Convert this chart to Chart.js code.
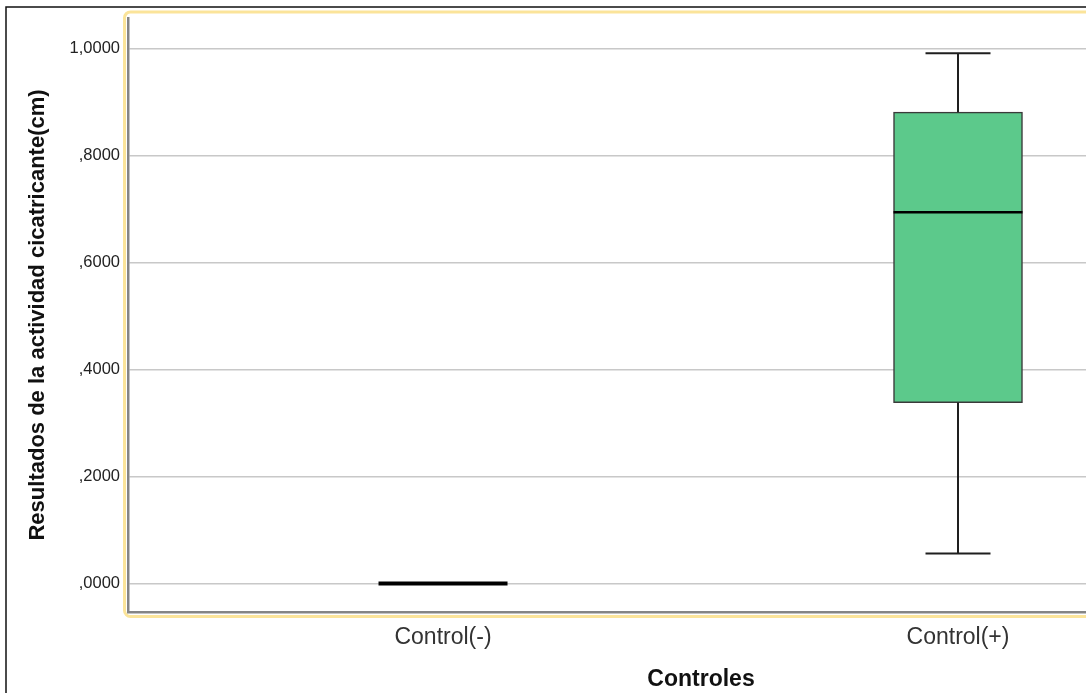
<!DOCTYPE html>
<html>
<head>
<meta charset="utf-8">
<script src="https://cdn.jsdelivr.net/npm/chart.js@4/dist/chart.umd.min.js"></script>
<style>
  html, body { margin: 0; padding: 0; background: #fff; }
  #wrap { width: 1086px; height: 693px; overflow: hidden; position: relative; }
  #chart { display: block; }
</style>
</head>
<body>
<div id="wrap"><canvas id="chart" width="1300" height="693"></canvas></div>
<script>
// Box-plot summary for each control group
const categories = ['Control(-)', 'Control(+)'];
const whiskerLow  = [0, 0.056];
const q1          = [0, 0.338];
const median      = [0, 0.694];
const q3          = [0, 0.881];
const whiskerHigh = [0, 0.991];
const yTicks = [0, 0.2, 0.4, 0.6, 0.8, 1.0];

const boxData = categories.map((c, i) => ({ x: i + 1, y: [q1[i], q3[i]] }));

const fmt = v => v.toFixed(4).replace('.', ',').replace(/^0/, '');

// Frame around the output and the yellow selection frame around the plot
const framePlugin = {
  id: 'frames',
  beforeDraw(chart) {
    const { ctx, chartArea: a, width, height } = chart;
    ctx.save();
    ctx.fillStyle = '#ffffff';
    ctx.fillRect(0, 0, width, height);
    ctx.strokeStyle = '#111111';
    ctx.lineWidth = 1.5;
    ctx.beginPath();
    ctx.moveTo(6, height);
    ctx.lineTo(6, 7);
    ctx.lineTo(width, 7);
    ctx.stroke();
    ctx.strokeStyle = '#fbe49a';
    ctx.lineWidth = 3;
    ctx.beginPath();
    ctx.roundRect(a.left - 3.5, a.top - 6, (a.right + 6) - (a.left - 3.5), (a.bottom + 4.5) - (a.top - 6), 6);
    ctx.stroke();
    ctx.restore();
  }
};

// Whiskers, caps and median lines drawn over the boxes
const whiskerPlugin = {
  id: 'whiskers',
  afterDatasetsDraw(chart) {
    const { ctx, scales: { x, y } } = chart;
    const boxW = 129, capW = 65;
    ctx.save();
    ctx.lineCap = 'butt';
    categories.forEach((c, i) => {
      const cx = x.getPixelForValue(i + 1);
      const pLo = y.getPixelForValue(whiskerLow[i]);
      const pQ1 = y.getPixelForValue(q1[i]);
      const pQ3 = y.getPixelForValue(q3[i]);
      const pHi = y.getPixelForValue(whiskerHigh[i]);
      const pMed = y.getPixelForValue(median[i]);
      ctx.strokeStyle = '#1f1f1f';
      ctx.lineWidth = 2;
      ctx.beginPath();
      ctx.moveTo(cx, pQ1); ctx.lineTo(cx, pLo);
      ctx.moveTo(cx, pQ3); ctx.lineTo(cx, pHi);
      ctx.moveTo(cx - capW / 2, pLo); ctx.lineTo(cx + capW / 2, pLo);
      ctx.moveTo(cx - capW / 2, pHi); ctx.lineTo(cx + capW / 2, pHi);
      ctx.stroke();
      ctx.strokeStyle = '#000';
      ctx.lineWidth = (q1[i] === q3[i]) ? 4 : 2.5;
      ctx.beginPath();
      ctx.moveTo(cx - boxW / 2, pMed); ctx.lineTo(cx + boxW / 2, pMed);
      ctx.stroke();
    });
    ctx.restore();
  }
};

new Chart(document.getElementById('chart'), {
  type: 'bar',
  data: {
    datasets: [{
      data: boxData,
      backgroundColor: '#5cc98b',
      borderColor: '#3a3a3a',
      borderWidth: 1.5,
      borderSkipped: false,
      barThickness: 129
    }]
  },
  options: {
    responsive: false,
    animation: false,
    layout: { padding: { top: 16, right: 26, left: 0, bottom: 0 } },
    plugins: { legend: { display: false }, tooltip: { enabled: false } },
    scales: {
      x: {
        type: 'linear',
        offset: false,
        min: 0.3883,
        max: 2.6136,
        afterBuildTicks: s => { s.ticks = categories.map((c, i) => ({ value: i + 1 })); },
        afterFit: s => { s.height = 81; },
        grid: { display: false, drawTicks: false, offset: false },
        border: { display: true, color: '#858585', width: 2.5 },
        ticks: {
          padding: 12,
          color: '#333',
          font: { family: 'Liberation Sans, Arial, sans-serif', size: 23 },
          callback: v => categories[v - 1]
        },
        title: {
          display: true,
          text: 'Controles',
          color: '#111',
          padding: { top: 0, bottom: 0 },
          font: { family: 'Liberation Sans, Arial, sans-serif', size: 23, weight: 'bold' }
        }
      },
      y: {
        min: -0.0535,
        max: 1.0572,
        afterBuildTicks: s => { s.ticks = yTicks.map(v => ({ value: v })); },
        afterFit: s => { s.width = 128; },
        grid: { color: '#c8c8c8', lineWidth: 1.5, drawTicks: false },
        border: { display: true, color: '#858585', width: 2.5 },
        ticks: {
          padding: 8,
          color: '#222',
          font: { family: 'Liberation Sans, Arial, sans-serif', size: 16.5 },
          callback: v => fmt(v)
        },
        title: {
          display: true,
          text: 'Resultados de la actividad cicatricante(cm)',
          color: '#111',
          padding: { top: 25, bottom: 0 },
          font: { family: 'Liberation Sans, Arial, sans-serif', size: 22, weight: 'bold' }
        }
      }
    }
  },
  plugins: [framePlugin, whiskerPlugin]
});
</script>
</body>
</html>
